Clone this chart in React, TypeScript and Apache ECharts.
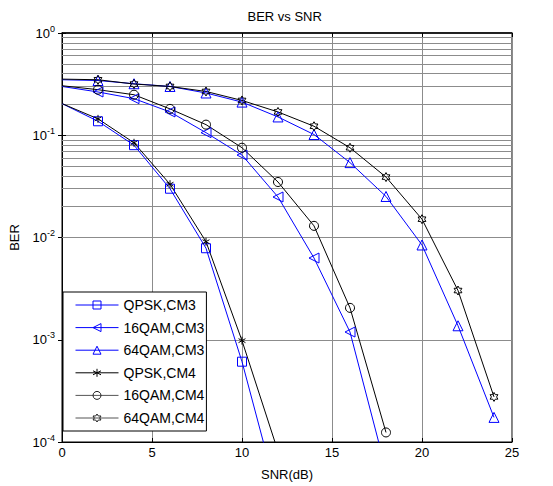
import React, { useEffect, useRef } from "react";
import * as echarts from "echarts";

const snr = [0, 2, 4, 6, 8, 10, 12, 14, 16, 18, 20, 22, 24];
const qpskCM3 = [0.204, 0.137, 0.08, 0.030, 0.00785, 6.1e-4, 2.9e-5];
const qam16CM3 = [0.30, 0.265, 0.228, 0.169, 0.106, 0.064, 0.0249, 0.0063, 0.00119, 5.3e-5];
const qam64CM3 = [0.349, 0.343, 0.319, 0.30, 0.259, 0.211, 0.151, 0.1016, 0.054, 0.0252, 0.00845, 0.00137, 1.74e-4];
const qpskCM4 = [0.204, 0.1446, 0.0844, 0.0332, 0.0091, 9.8e-4, 8.1e-5];
const qam16CM4 = [0.305, 0.279, 0.249, 0.181, 0.127, 0.0755, 0.0349, 0.013, 0.00205, 1.24e-4];
const qam64CM4 = [0.354, 0.349, 0.317, 0.30, 0.268, 0.219, 0.169, 0.1225, 0.0755, 0.039, 0.0151, 0.00303, 2.76e-4];
const xTicks = [0, 5, 10, 15, 20, 25];
const decades = [1e-4, 1e-3, 1e-2, 1e-1, 1];
const minorMultipliers = [2, 3, 4, 5, 6, 7, 8, 9];

const FONT = "'Liberation Sans', Arial, sans-serif";
const BLUE = "#0000ff";
const BLACK = "#000000";

const asterisk = "path://M0,-5L0,5M-4.33,-2.5L4.33,2.5M-4.33,2.5L4.33,-2.5";
const hexagram =
  "path://M0,-5L1.443,-2.5L4.33,-2.5L2.887,0L4.33,2.5L1.443,2.5L0,5L-1.443,2.5L-4.33,2.5L-2.887,0L-4.33,-2.5L-1.443,-2.5Z";

const CLEAR = "rgba(255,255,255,0)";

function mk(name: string, vals: number[], color: string, symbol: string, size: number, rotate = 0) {
  return {
    name,
    type: "line",
    data: vals.map((v, i) =>
      i === 0 ? { value: [snr[i], v], symbol: "none" } : { value: [snr[i], v] }
    ),
    symbol,
    symbolSize: size,
    symbolRotate: rotate,
    symbolKeepAspect: true,
    showAllSymbol: true,
    lineStyle: { color, width: 1 },
    itemStyle: { color: CLEAR, borderColor: color, borderWidth: 1 },
    emphasis: { disabled: true },
    clip: true,
    z: 5,
  };
}

function legItem(name: string, line: string, border: string) {
  return {
    name,
    lineStyle: { color: line, width: 1 },
    itemStyle: { color: CLEAR, borderColor: border, borderWidth: 1 },
  };
}

export default function App() {
  const ref = useRef<HTMLDivElement>(null);
  useEffect(() => {
    document.body.style.margin = "0";
    const chart = echarts.init(ref.current!, null, { renderer: "svg" });
    const minorVals: number[] = [];
    decades.slice(0, 4).forEach((d) => minorMultipliers.forEach((m) => minorVals.push(+(d * m).toPrecision(3))));
    const option: any = {
      animation: false,
      backgroundColor: "#ffffff",
      textStyle: { fontFamily: FONT },
      graphic: [
        {
          type: "text",
          left: 285.5 - 38,
          top: 10,
          style: { text: "BER vs SNR", font: `13px ${FONT}`, fill: "#000" },
        },
      ],
      grid: {
        left: 59,
        right: 41,
        top: 33,
        bottom: 42,
        show: true,
        borderColor: "#000",
        borderWidth: 1,
        backgroundColor: "#fff",
      },
      legend: {
        orient: "vertical",
        left: 63,
        top: 292,
        backgroundColor: "#fff",
        borderColor: "#000",
        borderWidth: 1,
        borderRadius: 0,
        padding: [6, 2, 6, 12],
        itemWidth: 43,
        itemHeight: 10,
        itemGap: 8.6,
        textStyle: { fontSize: 14, color: "#000", fontFamily: FONT },
        data: [
          legItem("QPSK,CM3", BLUE, BLUE),
          legItem("16QAM,CM3", BLUE, BLUE),
          legItem("64QAM,CM3", BLUE, BLUE),
          legItem("QPSK,CM4", BLACK, BLACK),
          legItem("16QAM,CM4", "#555", "#222"),
          legItem("64QAM,CM4", "#555", "#222"),
        ],
        selectedMode: false,
      },
      xAxis: [
        {
          type: "value",
          min: 0,
          max: 25,
          interval: 5,
          name: "SNR(dB)",
          nameLocation: "middle",
          nameGap: 26,
          nameTextStyle: { fontSize: 13, color: "#000", fontFamily: FONT },
          axisLine: { show: true, lineStyle: { color: "#000", width: 1 } },
          axisTick: { show: true, inside: true, length: 4, lineStyle: { color: "#000" } },
          axisLabel: {
            fontSize: 13,
            color: "#000",
            margin: 4,
            fontFamily: FONT,
            formatter: (v: number) => (xTicks.includes(v) ? String(v) : ""),
          },
          splitLine: { show: true, lineStyle: { color: "#8c8c8c", width: 1 } },
        },
        {
          type: "value",
          position: "top",
          min: 0,
          max: 25,
          interval: 5,
          axisLine: { show: true, lineStyle: { color: "#000", width: 1.5 } },
          axisTick: { show: true, inside: true, length: 4, lineStyle: { color: "#000" } },
          axisLabel: { show: false },
          splitLine: { show: false },
        },
      ],
      yAxis: [
        {
          type: "log",
          logBase: 10,
          min: 1e-4,
          max: 1,
          splitNumber: 4,
          name: "BER",
          nameLocation: "middle",
          nameGap: 41,
          nameRotate: 90,
          nameTextStyle: { fontSize: 13, color: "#000", fontFamily: FONT },
          axisLine: { show: true, lineStyle: { color: "#000", width: 1 } },
          axisTick: { show: true, inside: true, length: 4, lineStyle: { color: "#000" } },
          axisLabel: {
            color: "#000",
            margin: 7,
            formatter: (v: number) => `{b|10}{s|${Math.round(Math.log10(v))}}`,
            rich: {
              b: { fontSize: 13, color: "#000", fontFamily: FONT },
              s: { fontSize: 9, color: "#000", fontFamily: FONT, padding: [0, 0, 9, 0] },
            },
          },
          splitLine: { show: true, lineStyle: { color: "#8c8c8c", width: 1 } },
        },
        {
          type: "log",
          logBase: 10,
          min: 1e-4,
          max: 1,
          splitNumber: 4,
          position: "right",
          axisLine: { show: true, lineStyle: { color: "#000", width: 1 } },
          axisTick: { show: true, inside: true, length: 4, lineStyle: { color: "#000" } },
          axisLabel: { show: false },
          splitLine: { show: false },
        },
      ],
      series: [
        {
          type: "line",
          name: "_grid",
          data: [],
          silent: true,
          z: 1,
          markLine: {
            silent: true,
            symbol: ["none", "none"],
            label: { show: false },
            lineStyle: { color: "#8c8c8c", width: 1, type: "solid" },
            emphasis: { disabled: true },
            data: minorVals.map((v) => ({ yAxis: v })),
          },
        },
        mk("QPSK,CM3", qpskCM3, BLUE, "rect", 9),
        mk("16QAM,CM3", qam16CM3, BLUE, "triangle", 10, 90),
        mk("64QAM,CM3", qam64CM3, BLUE, "triangle", 10),
        mk("QPSK,CM4", qpskCM4, BLACK, asterisk, 8),
        mk("16QAM,CM4", qam16CM4, BLACK, "circle", 9),
        mk("64QAM,CM4", qam64CM4, BLACK, hexagram, 9),
      ],
    };
    chart.setOption(option);
    return () => chart.dispose();
  }, []);
  return <div ref={ref} style={{ width: 553, height: 486 }} />;
}
